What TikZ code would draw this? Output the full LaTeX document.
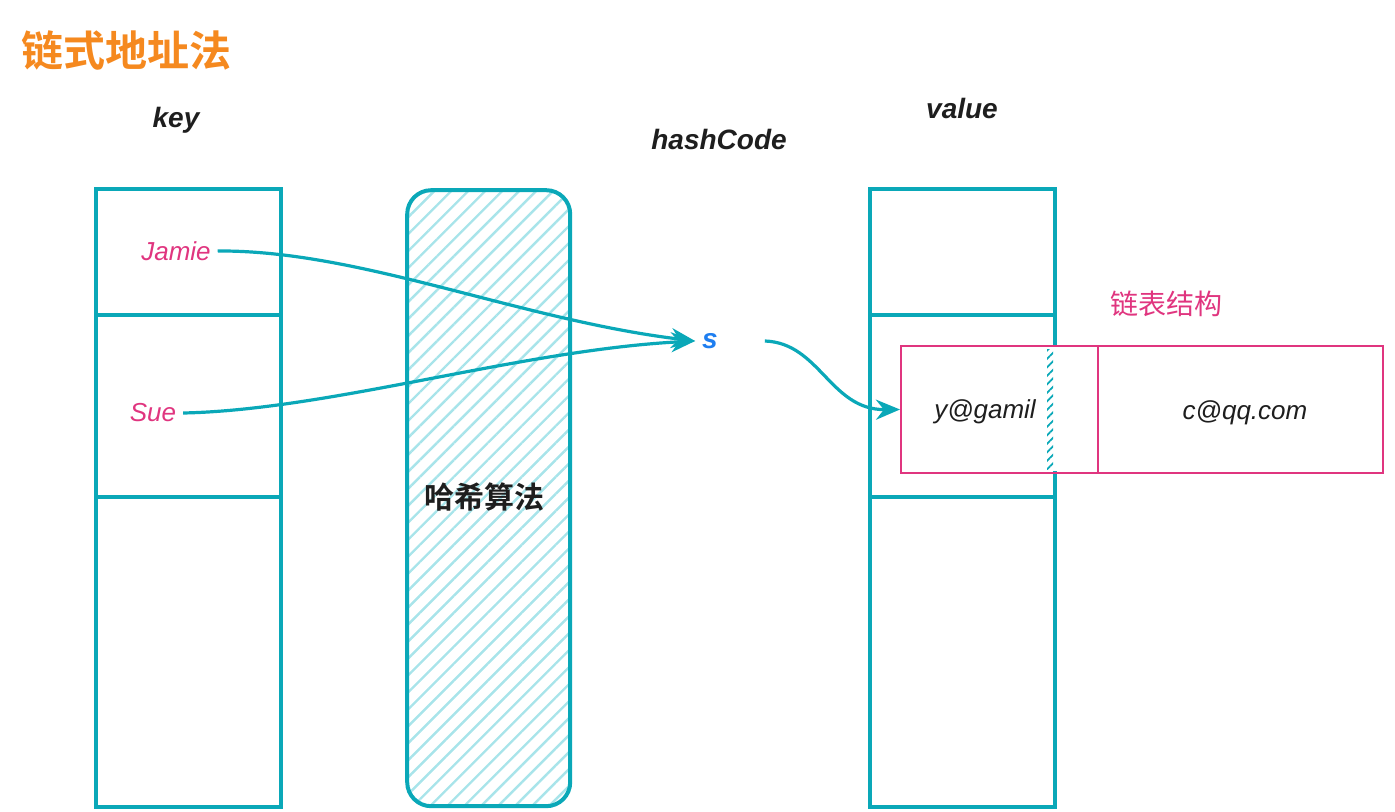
\documentclass[tikz,border=0pt]{standalone}
\usepackage{fontspec}
\setmainfont{Liberation Sans}
\newfontfamily\cjk{Noto Sans CJK SC}
\newfontfamily\cjkb{Noto Sans CJK SC Bold}
\usetikzlibrary{patterns.meta,arrows.meta}
\definecolor{teal1}{HTML}{0AA8B8}
\definecolor{hatch}{HTML}{A8E4EA}
\definecolor{pinkc}{HTML}{E0357F}
\definecolor{orangec}{HTML}{F5891F}
\definecolor{bluec}{HTML}{1E7EF0}
\definecolor{inkc}{HTML}{1E1E1E}
\tikzset{
  colbox/.style={draw=teal1, line width=2pt},
  hdr/.style={font=\bfseries\itshape\fontsize{14}{16}\selectfont, text=inkc},
  keytxt/.style={font=\itshape\fontsize{13}{15}\selectfont, text=pinkc},
  valtxt/.style={font=\itshape\fontsize{13}{15}\selectfont, text=inkc},
  conn/.style={draw=teal1, line width=1.6pt, -{Stealth[length=12pt,width=10pt]}},
  pinkbox/.style={draw=pinkc, line width=1pt},
}
\begin{document}
\begin{tikzpicture}[x=0.5pt,y=-0.5pt]
\useasboundingbox (0,0) rectangle (1395,812);
% title
\node[text=orangec, font=\cjkb\fontsize{21}{24}\selectfont, anchor=west] (title) at (14,50) {链式地址法};
% headers
\node[hdr] (keyh) at (176,120) {key};
\node[hdr] (hashh) at (719,140) {hashCode};
\node[hdr] (valh) at (962,108) {value};
% key column
\node[colbox, minimum width=92.5pt, minimum height=309pt, anchor=north west, inner sep=0] (keycol) at (94,187) {};
\draw[colbox] (94,315) -- (279,315);
\draw[colbox] (94,497) -- (279,497);
% hash column
\node[draw=teal1, line width=2pt, rounded corners=12pt, pattern={Lines[angle=45,distance=6pt,line width=1.2pt]}, pattern color=hatch, minimum width=81.5pt, minimum height=308pt, anchor=north west, inner sep=0] (hashcol) at (406,189) {};
\node[font=\cjkb\fontsize{15}{17}\selectfont, text=inkc] (algo) at (484,497) {哈希算法};
% value column
\node[colbox, minimum width=92.5pt, minimum height=309pt, anchor=north west, inner sep=0] (valcol) at (868,187) {};
\draw[colbox] (868,315) -- (1053,315);
\draw[colbox] (868,497) -- (1053,497);
% linked list
\fill[white] (1040,347) rectangle (1060,471);
\node[draw=none, pattern={Lines[angle=45,distance=3pt,line width=0.9pt]}, pattern color=teal1, minimum width=3pt, minimum height=60pt, inner sep=0] (strip) at (1050,409) {};
\node[pinkbox, minimum width=98.5pt, minimum height=63.5pt, anchor=north west, inner sep=0] (n1) at (900,345) {};
\node[pinkbox, minimum width=142.5pt, minimum height=63.5pt, anchor=north west, inner sep=0] (n2) at (1097,345) {};
\node[valtxt] (y) at (985,412) {y@gamil};
\node[valtxt] (c) at (1245,413) {c@qq.com};
\node[font=\cjk\fontsize{14}{16}\selectfont, text=pinkc] (ll) at (1166,304) {链表结构};
% keys
\node[keytxt] (jamie) at (176,251) {Jamie};
\node[keytxt] (sue) at (153,413) {Sue};
\node[font=\bfseries\itshape\fontsize{14}{16}\selectfont, text=bluec] (s) at (710,341) {s};
% connectors
\draw[conn] (jamie.east) .. controls (360,250) and (520,320) .. (s.west);
\draw[conn] (sue.east) .. controls (330,410) and (520,350) .. (s.west);
\draw[conn] ([xshift=20pt]s.east) .. controls (820,343) and (830,410) .. (n1.west);
\end{tikzpicture}
\end{document}
